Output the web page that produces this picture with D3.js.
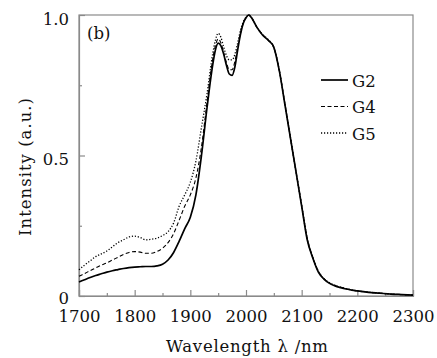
<!DOCTYPE html>
<html>
<head>
<meta charset="utf-8">
<script src="https://cdn.jsdelivr.net/npm/d3@7"></script>
<style>
  body { margin: 0; background: #fff; }
  svg text { font-family: "DejaVu Serif", "Liberation Serif", serif; fill: #111; }
</style>
</head>
<body>
<div id="chart"></div>
<script>
// wavelength grid (nm), shared by all three spectra
const wavelengths = [
    1700, 1710, 1720, 1730, 1740, 1750, 1760, 1770, 1780, 1790,
    1800, 1810, 1820, 1830, 1840, 1850, 1860, 1870, 1880, 1890,
    1900, 1910, 1920, 1930, 1940,
    1945, 1950, 1955, 1960, 1965, 1970, 1975, 1980, 1985, 1990, 1995, 2000, 2005, 2010,
    2020, 2030, 2040, 2050, 2060, 2070, 2080, 2090, 2100, 2110,
    2120, 2130, 2140, 2150, 2160, 2170, 2180, 2190, 2200,
    2220, 2240, 2260, 2280, 2300
];

const g2 = [
    .050, .058, .066, .073, .079, .085, .090, .094, .098, .101,
    .103, .104, .105, .105, .107, .113, .128, .155, .195, .240,
    .280, .360, .500, .670, .820,
    .875, .900, .890, .860, .820, .790, .785, .815, .875, .930, .970, .990, 1.000, .990,
    .955, .928, .910, .885, .800, .680, .560, .440, .320, .200,
    .135, .085, .060, .045, .036, .030, .025, .021, .018,
    .013, .010, .007, .005, .003
];

const g4 = [
    .070, .080, .090, .100, .110, .118, .128, .138, .148, .155,
    .158, .156, .152, .152, .158, .170, .190, .222, .270, .320,
    .360, .420, .530, .690, .840,
    .890, .915, .900, .865, .830, .805, .805, .835, .885, .935, .970, .990, 1.000, .990,
    .955, .930, .910, .885, .800, .682, .560, .442, .322, .205,
    .138, .088, .062, .046, .037, .031, .026, .021, .018,
    .013, .010, .007, .005, .003
];

const g5 = [
    .093, .110, .125, .140, .150, .160, .175, .190, .200, .210,
    .213, .208, .200, .202, .206, .215, .229, .260, .320, .360,
    .405, .480, .600, .720, .860,
    .910, .935, .920, .885, .855, .840, .840, .860, .900, .945, .975, .992, 1.000, .990,
    .955, .930, .912, .885, .802, .682, .562, .442, .322, .205,
    .138, .088, .062, .047, .038, .031, .026, .022, .018,
    .014, .010, .007, .005, .003
];

const seriesNames = ["G2", "G4", "G5"];
const xTicks = [1700, 1800, 1900, 2000, 2100, 2200, 2300];
const xMinorTicks = [1750, 1850, 1950, 2050, 2150, 2250];
const yTicks = [0, 0.5, 1.0];
const yTickLabels = ["0", "0.5", "1.0"];
const yMinorTicks = [0.25, 0.75];

const outerWidth = 437, outerHeight = 358;
const margin = {top: 15, right: 24, bottom: 62, left: 79};
const width = outerWidth - margin.left - margin.right;
const height = outerHeight - margin.top - margin.bottom;
const frameColor = "#8a8a8a";
const fontFamily = "DejaVu Serif, Liberation Serif, serif";
const fontSize = 16.5;

const svg = d3.select("#chart")
    .append("svg")
    .attr("width", outerWidth)
    .attr("height", outerHeight)
    .attr("font-family", fontFamily);

const plot = svg.append("g")
    .attr("transform", `translate(${margin.left}, ${margin.top})`);

const x = d3.scaleLinear().domain([1700, 2300]).range([0, width]);
const y = d3.scaleLinear().domain([0, 1]).range([height, 0]);

// frame
plot.append("rect")
    .attr("x", 0).attr("y", 0)
    .attr("width", width).attr("height", height)
    .attr("fill", "none")
    .attr("stroke", frameColor)
    .attr("stroke-width", 1.2);

// axes, ticks pointing inward
plot.append("g")
    .attr("transform", `translate(0, ${height})`)
    .call(d3.axisBottom(x).tickValues(xTicks).tickSize(-6).tickPadding(14).tickFormat(d3.format("d")));
plot.append("g")
    .attr("transform", `translate(0, ${height})`)
    .call(d3.axisBottom(x).tickValues(xMinorTicks).tickSize(-3).tickFormat(""))
    .call(g => g.select(".domain").remove());

const yAxis = plot.append("g")
    .call(d3.axisLeft(y).tickValues(yTicks).tickSize(-6).tickPadding(10)
        .tickFormat((d, i) => yTickLabels[i]));
plot.append("g")
    .call(d3.axisLeft(y).tickValues(yMinorTicks).tickSize(-3).tickFormat(""))
    .call(g => g.select(".domain").remove());

plot.selectAll(".tick line").attr("stroke", frameColor).attr("stroke-width", 1.2);
plot.selectAll(".domain").attr("stroke", frameColor).attr("stroke-width", 1.2);
plot.selectAll("g").attr("font-family", fontFamily);
plot.selectAll(".tick text")
    .attr("font-size", fontSize)
    .attr("font-family", fontFamily)
    .attr("fill", "#111");
yAxis.selectAll(".tick text").attr("dy", "0.55em");
yAxis.selectAll(".tick text").filter(d => d === 0).attr("dy", "0.45em");

// spectra
const line = values => d3.line()
    .x((d, i) => x(wavelengths[i]))
    .y(d => y(d))
    .curve(d3.curveMonotoneX)(values);

const styles = {
    G2: {data: g2, width: 1.7, dash: null},
    G4: {data: g4, width: 1.1, dash: "4,2.5"},
    G5: {data: g5, width: 1.3, dash: "1.2,1.8"}
};

seriesNames.slice().reverse().forEach(name => {
    const s = styles[name];
    plot.append("path")
        .attr("d", line(s.data))
        .attr("fill", "none")
        .attr("stroke", "#000")
        .attr("stroke-width", s.width)
        .attr("stroke-dasharray", s.dash);
});

// legend
const legend = svg.append("g");
seriesNames.forEach((name, i) => {
    const ly = 80 + i * 26.5;
    const s = styles[name];
    legend.append("line")
        .attr("x1", 321).attr("x2", 348)
        .attr("y1", ly).attr("y2", ly)
        .attr("stroke", "#000")
        .attr("stroke-width", s.width)
        .attr("stroke-dasharray", s.dash);
    legend.append("text")
        .attr("x", 352)
        .attr("y", ly + 6.5)
        .attr("font-size", fontSize)
        .text(name);
});

// panel label
svg.append("text")
    .attr("x", 87)
    .attr("y", 39)
    .attr("font-size", fontSize)
    .text("(b)");

// axis titles
svg.append("text")
    .attr("x", 247)
    .attr("y", 352)
    .attr("text-anchor", "middle")
    .attr("font-size", fontSize)
    .attr("textLength", 162)
    .attr("lengthAdjust", "spacing")
    .text("Wavelength λ /nm");

svg.append("text")
    .attr("transform", "translate(31, 167) rotate(-90)")
    .attr("text-anchor", "middle")
    .attr("font-size", fontSize)
    .attr("textLength", 138)
    .attr("lengthAdjust", "spacing")
    .text("Intensity (a.u.)");
</script>
</body>
</html>
